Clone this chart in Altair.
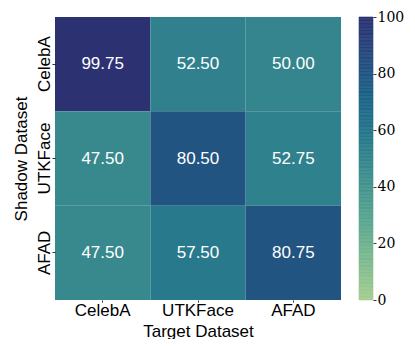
import altair as alt
import pandas as pd

shadow = ["CelebA", "UTKFace", "AFAD"]
target = ["CelebA", "UTKFace", "AFAD"]
values = [
    [99.75, 52.50, 50.00],
    [47.50, 80.50, 52.75],
    [47.50, 57.50, 80.75],
]

crest_stops = [0, 14.3, 28.6, 42.9, 57.1, 71.4, 85.7, 100]
crest_colors = ["#a5cd90", "#7dba91", "#59a590", "#40908e", "#287a8c",
                "#1c6488", "#254b7f", "#2c3172"]
cbar_ticks = [0, 20, 40, 60, 80, 100]
cbar_levels = [i * 0.5 for i in range(200)]

rows = []
for i, s in enumerate(shadow):
    for j, t in enumerate(target):
        rows.append({"Shadow": s, "Target": t, "v": values[i][j]})
df = pd.DataFrame(rows)
cb = pd.DataFrame({"lo": cbar_levels, "hi": [v + 0.5 for v in cbar_levels]})

SANS = "Liberation Sans"
SERIF = "DejaVu Serif"

color_scale = alt.Scale(domain=crest_stops, range=crest_colors, interpolate="rgb")

x = alt.X("Target:N", sort=target, title="Target Dataset",
          scale=alt.Scale(paddingInner=0, paddingOuter=0),
          axis=alt.Axis(labelAngle=0, labelFont=SANS, labelFontSize=17,
                        titleFont=SANS, titleFontSize=17, titleFontWeight="normal",
                        labelPadding=0, tickSize=2, tickWidth=0.8, domain=False,
                        titleY=23, titleBaseline="top",
                        labelColor="black", titleColor="black", tickColor="black"))
y = alt.Y("Shadow:N", sort=shadow, title="Shadow Dataset",
          scale=alt.Scale(paddingInner=0, paddingOuter=0),
          axis=alt.Axis(labelAngle=-90, labelAlign="center", labelBaseline="alphabetic",
                        labelFont=SANS, labelFontSize=17, titleFont=SANS,
                        titleFontSize=17, titleFontWeight="normal", labelPadding=3,
                        tickSize=3, tickWidth=0.8, domain=False, titleX=-34, titleY=141.5,
                        titleAngle=270, titleAlign="center", titleBaseline="middle",
                        labelColor="black", titleColor="black", tickColor="black"))

base = alt.Chart(df)
rect = base.mark_rect().encode(
    x=x, y=y,
    color=alt.Color("v:Q", scale=color_scale, legend=None),
)
text = base.mark_text(font=SANS, fontSize=17, color="white").encode(
    x=alt.X("Target:N", sort=target),
    y=alt.Y("Shadow:N", sort=shadow),
    text=alt.Text("v:Q", format=".2f"),
)
heat = (rect + text).properties(width=286, height=283)

cbar = alt.Chart(cb).mark_rect(strokeWidth=0.6).encode(
    y=alt.Y("lo:Q", scale=alt.Scale(domain=[0, 100], nice=False, zero=True), title=None,
            axis=alt.Axis(orient="right", values=cbar_ticks, labelFont=SERIF,
                          labelFontSize=14, labelColor="black", tickColor="black",
                          tickSize=3, tickWidth=0.8, labelPadding=1, domain=False,
                          grid=False, labelOverlap=False, labelFlush=False)),
    y2="hi:Q",
    color=alt.Color("lo:Q", scale=color_scale, legend=None),
    stroke=alt.Stroke("lo:Q", scale=color_scale, legend=None),
).properties(width=14, height=283)

chart = alt.hconcat(heat, cbar, spacing=17).properties(
    padding={"left": 4, "top": 2, "right": 2, "bottom": 0},
).configure_view(stroke=None).resolve_scale(color="shared", stroke="shared")

chart.save("out.html", embed_options={"renderer": "svg", "actions": False})
